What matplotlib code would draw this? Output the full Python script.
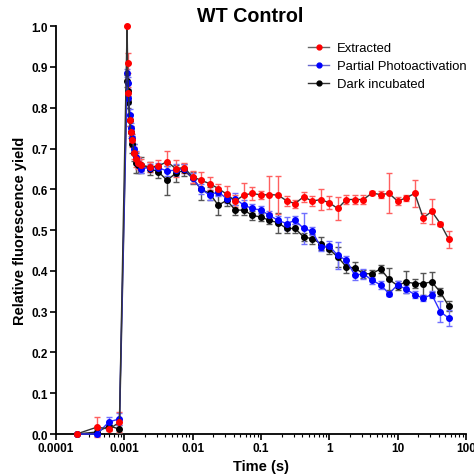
import numpy as np
from matplotlib import pyplot as plt
from matplotlib.lines import Line2D

plt.rcParams['font.family'] = ['Liberation Sans', 'DejaVu Sans']

# time points (s)
time_s = [0.0002, 0.0004, 0.0006, 0.00085,
          0.0011, 0.00112, 0.00115, 0.0012, 0.00125, 0.0013, 0.0014, 0.0015, 0.0016,
          0.00178, 0.00237, 0.00316, 0.00422, 0.00562, 0.0075, 0.01,
          0.0133, 0.0178, 0.0237, 0.0316, 0.0422, 0.0562, 0.075, 0.1, 0.133, 0.178, 0.237, 0.316,
          0.422, 0.562, 0.75, 1.0, 1.33, 1.78, 2.37, 3.16, 4.22, 5.62, 7.5, 10, 13.3, 17.8,
          23.7, 31.6, 42.2, 56.2]

extracted = [0.0, 0.017, 0.012, 0.029,
             1.0, 0.91, 0.835, 0.77, 0.74, 0.72, 0.69, 0.675, 0.665,
             0.659, 0.655, 0.657, 0.668, 0.651, 0.653, 0.631,
             0.622, 0.614, 0.602, 0.588, 0.571, 0.586, 0.590, 0.586, 0.587, 0.586, 0.572, 0.565,
             0.582, 0.571, 0.575, 0.567, 0.553, 0.575, 0.575, 0.575, 0.591, 0.587, 0.590, 0.571,
             0.579, 0.590, 0.530, 0.546, 0.516, 0.477]
extracted_err = [0, 0.025, 0.005, 0.025,
                 0, 0.025, 0.015, 0.015, 0.01, 0.015, 0.015, 0.02, 0.015,
                 0.015, 0.012, 0.015, 0.025, 0.02, 0.012, 0.015,
                 0.02, 0.015, 0.01, 0.02, 0.015, 0.029, 0.015, 0.01, 0.045, 0.047, 0.012, 0.01,
                 0.012, 0.012, 0.025, 0.016, 0.027, 0.01, 0.012, 0.01, 0.005, 0.008, 0.049, 0.01,
                 0.008, 0.033, 0.012, 0.03, 0.005, 0.02]

partial = [0.0, 0.0, 0.03, 0.037,
           0.885, 0.86, 0.823, 0.782, 0.75, 0.725, 0.70, 0.68, 0.665,
           0.651, 0.653, 0.653, 0.645, 0.647, 0.651, 0.628,
           0.60, 0.586, 0.594, 0.577, 0.577, 0.561, 0.553, 0.549, 0.536, 0.524, 0.516, 0.524,
           0.504, 0.497, 0.459, 0.461, 0.438, 0.426, 0.389, 0.393, 0.377, 0.366, 0.344, 0.366,
           0.355, 0.342, 0.333, 0.342, 0.300, 0.284]
partial_err = [0, 0.005, 0.012, 0.015,
               0.01, 0.015, 0.015, 0.015, 0.012, 0.01, 0.01, 0.012, 0.012,
               0.012, 0.01, 0.012, 0.012, 0.015, 0.012, 0.012,
               0.012, 0.012, 0.01, 0.01, 0.015, 0.012, 0.01, 0.01, 0.012, 0.01, 0.015, 0.01,
               0.037, 0.01, 0.01, 0.012, 0.033, 0.01, 0.012, 0.012, 0.01, 0.01, 0.005, 0.008,
               0.01, 0.008, 0.008, 0.008, 0.025, 0.02]

dark = [0.0, 0.005, 0.02, 0.012,
        0.865, 0.84, 0.815, 0.77, 0.74, 0.71, 0.69, 0.665, 0.66,
        0.659, 0.651, 0.643, 0.622, 0.639, 0.647, 0.627,
        0.60, 0.59, 0.561, 0.573, 0.549, 0.549, 0.536, 0.532, 0.524, 0.518, 0.504, 0.504,
        0.483, 0.479, 0.467, 0.453, 0.434, 0.410, 0.407, 0.393, 0.393, 0.405, 0.379, 0.364,
        0.373, 0.369, 0.369, 0.373, 0.348, 0.313]
dark_err = [0, 0.008, 0.01, 0.01,
            0.015, 0.02, 0.015, 0.015, 0.015, 0.02, 0.02, 0.025, 0.02,
            0.02, 0.015, 0.015, 0.035, 0.02, 0.015, 0.015,
            0.025, 0.015, 0.025, 0.015, 0.012, 0.012, 0.01, 0.01, 0.01, 0.025, 0.012, 0.012,
            0.01, 0.012, 0.015, 0.012, 0.025, 0.015, 0.015, 0.01, 0.01, 0.01, 0.027, 0.012,
            0.026, 0.01, 0.027, 0.025, 0.01, 0.012]

labels = ['Extracted', 'Partial Photoactivation', 'Dark incubated']

fig = plt.figure(figsize=(4.74, 4.77), dpi=100)
ax = fig.add_axes([0.118, 0.088, 0.865, 0.855])

series = [
    (dark, dark_err, 'black', '#222222', '#555555'),
    (partial, partial_err, 'blue', '#3030ff', '#7070ff'),
    (extracted, extracted_err, 'red', '#333333', '#ff6060'),
]
for vals, errs, mcol, lcol, ecol in series:
    ax.errorbar(time_s, vals, yerr=errs, fmt='o-', color=lcol, mfc=mcol, mec=mcol,
                ms=4, lw=1.0, ecolor=ecol, elinewidth=1.0, capsize=2.5, capthick=1.0,
                clip_on=False, zorder=3)

ax.set_xscale('log')
ax.set_xlim(0.0001, 100)
ax.set_ylim(0, 1.0)
ax.set_xticks([0.0001, 0.001, 0.01, 0.1, 1, 10, 100])
ax.set_xticklabels(['0.0001', '0.001', '0.01', '0.1', '1', '10', '100'])
ax.set_yticks(np.arange(0, 1.01, 0.1))
ax.set_yticklabels(['%.1f' % v for v in np.arange(0, 1.01, 0.1)])
for lab in ax.get_xticklabels() + ax.get_yticklabels():
    lab.set_fontweight('bold')
    lab.set_fontsize(8.5)

ax.spines['top'].set_visible(False)
ax.spines['right'].set_visible(False)
ax.spines['left'].set_linewidth(1.3)
ax.spines['bottom'].set_linewidth(1.3)
ax.tick_params(axis='both', which='major', direction='out', length=4, width=1.2, pad=2)
ax.tick_params(axis='x', which='minor', direction='out', length=2.5, width=0.8)

ax.set_xlabel('Time (s)', fontsize=10.5, fontweight='bold', labelpad=3)
ax.set_ylabel('Relative fluorescence yield', fontsize=10.5, fontweight='bold', labelpad=3)
fig.text(250 / 474, 1 - 16 / 477, 'WT Control', fontsize=14.2, fontweight='bold',
         ha='center', va='center')

handles = [
    Line2D([], [], color='#666666', marker='o', mfc='red', mec='red', ms=3.5, lw=1.0),
    Line2D([], [], color='#6666cc', marker='o', mfc='blue', mec='blue', ms=3.5, lw=1.0),
    Line2D([], [], color='#333333', marker='o', mfc='black', mec='black', ms=3.5, lw=1.0),
]
ax.legend(handles, labels, loc='upper right', bbox_to_anchor=(1.03, 0.99), frameon=False,
          fontsize=9.4, handlelength=1.6, labelspacing=0.45, handletextpad=0.6)

plt.savefig('out.png')
